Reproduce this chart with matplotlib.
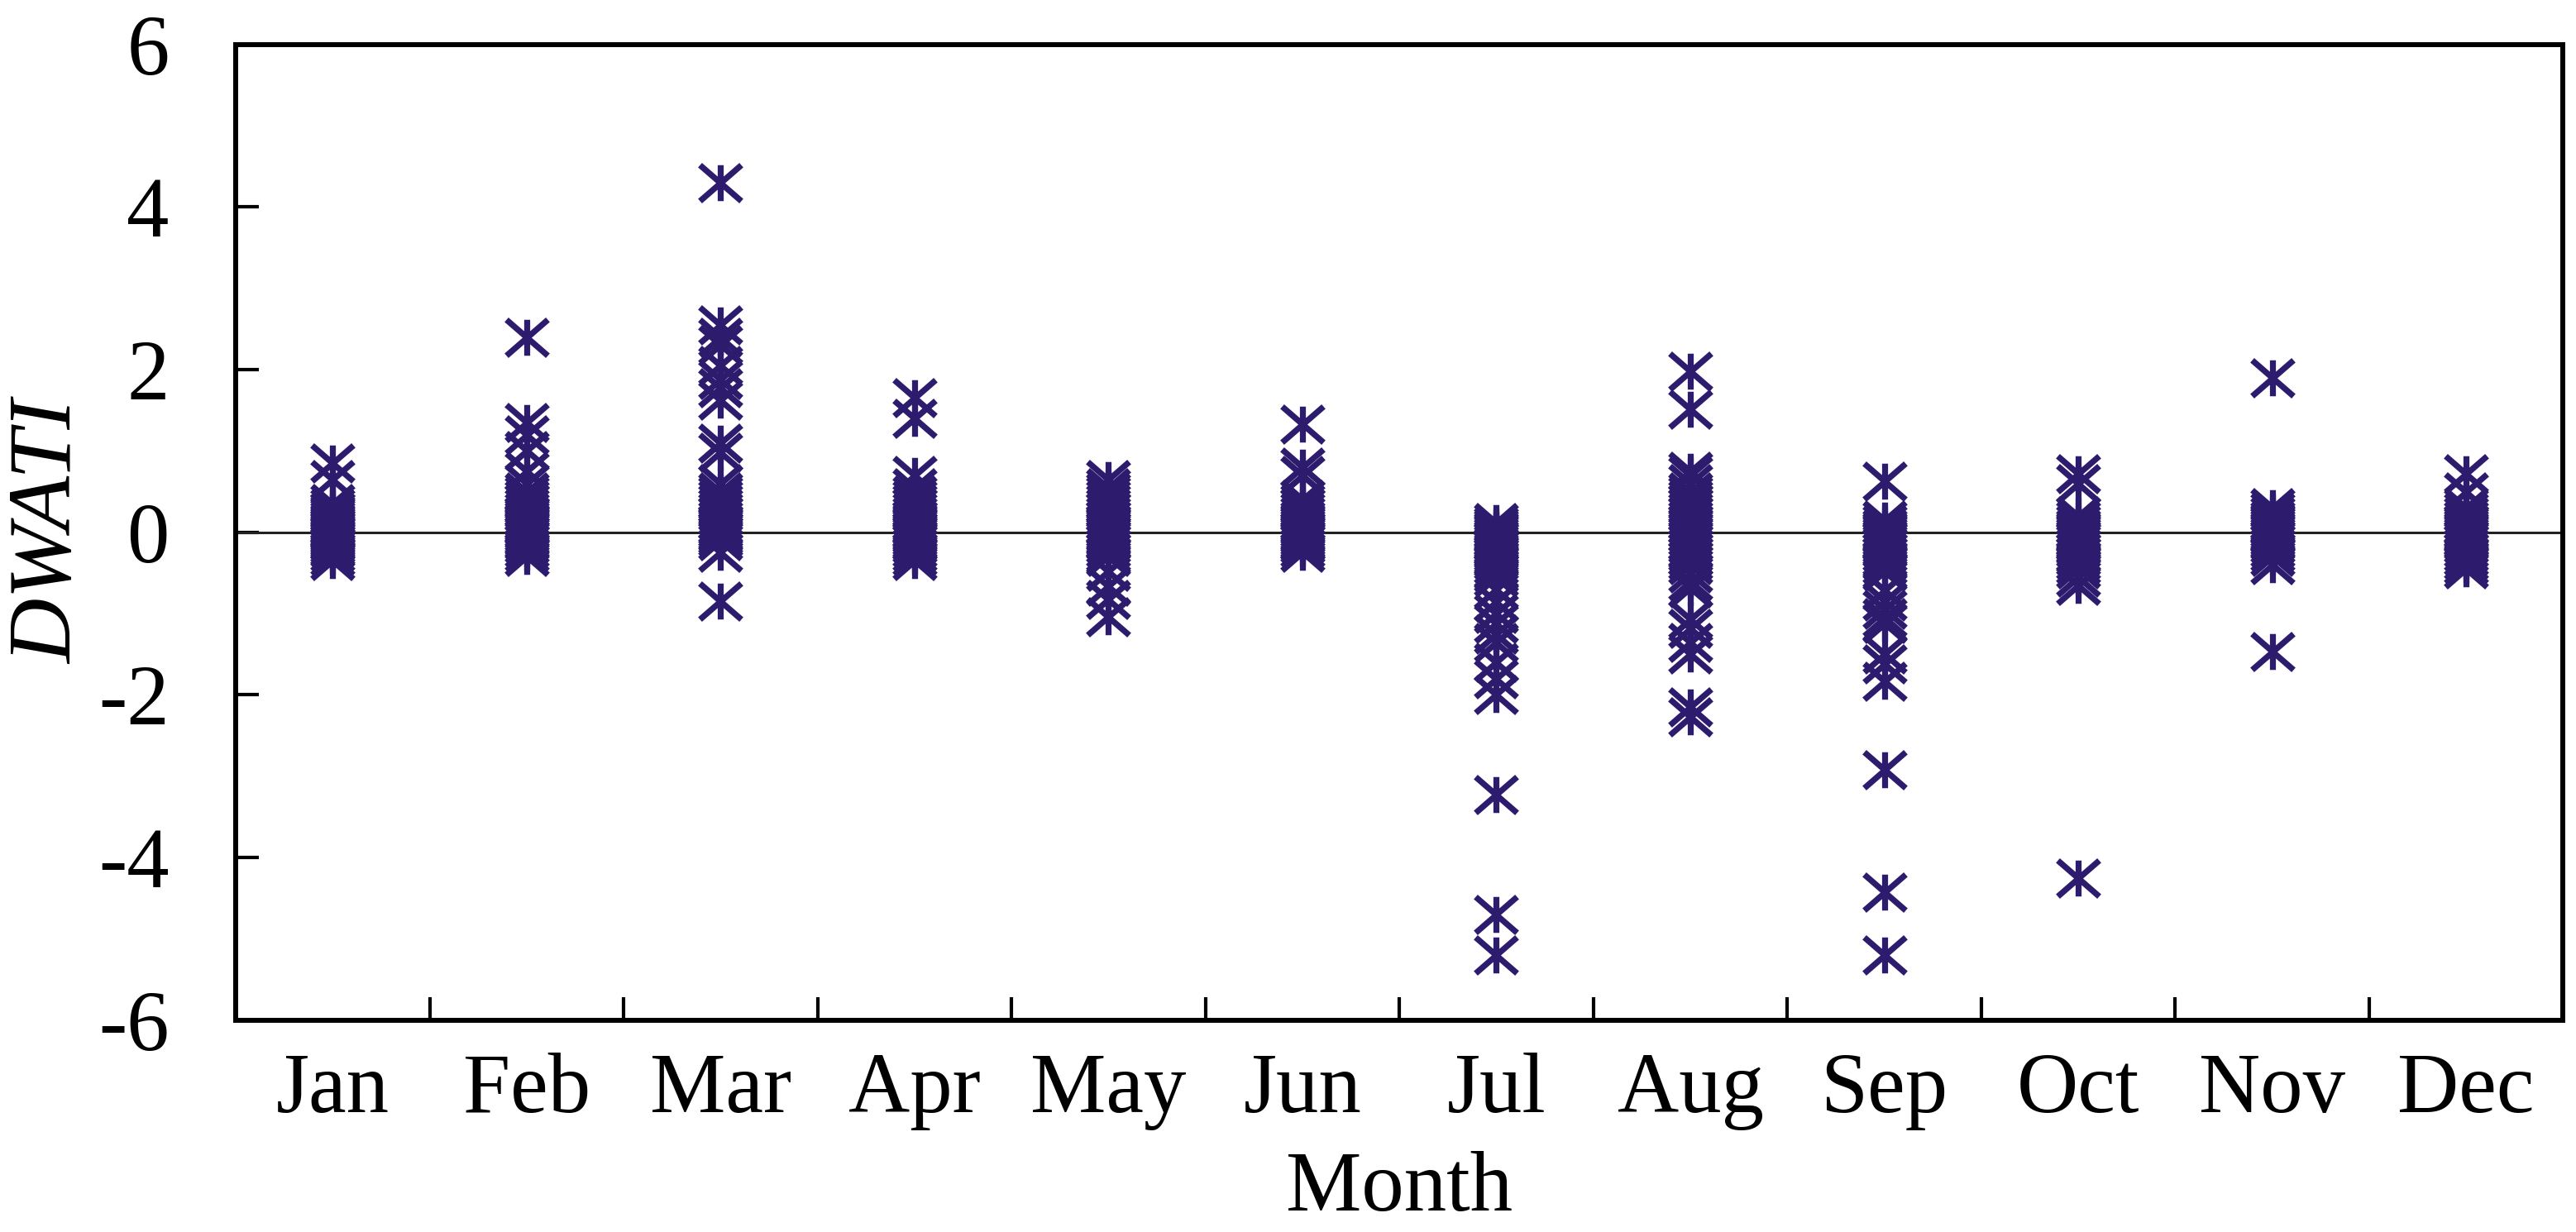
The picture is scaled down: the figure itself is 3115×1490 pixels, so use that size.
import matplotlib
matplotlib.use("Agg")
import matplotlib.pyplot as plt
from matplotlib.path import Path

plt.rcParams['font.family'] = ['Liberation Serif', 'DejaVu Serif']
plt.rcParams['axes.unicode_minus'] = False

months = ["Jan", "Feb", "Mar", "Apr", "May", "Jun", "Jul", "Aug", "Sep", "Oct", "Nov", "Dec"]

jan = [0.85, 0.65, 0.35, 0.3, 0.25, 0.22, 0.2, 0.18, 0.15, 0.12, 0.1, 0.08, 0.06, 0.05, 0.03, 0.02, 0.0,
       -0.02, -0.04, -0.06, -0.08, -0.1, -0.12, -0.15, -0.18, -0.2, -0.25, -0.3, -0.35]
feb = [2.4, 1.35, 1.2, 1.0, 0.75, 0.6, 0.5, 0.45, 0.4, 0.35, 0.3, 0.25, 0.2, 0.18, 0.15, 0.12, 0.1, 0.08,
       0.05, 0.03, 0.0, -0.03, -0.05, -0.08, -0.1, -0.15, -0.2, -0.25, -0.3]
mar = [4.3, 2.55, 2.4, 2.3, 2.05, 1.88, 1.78, 1.62, 1.1, 0.98, 0.6, 0.5, 0.45, 0.4, 0.35, 0.3, 0.25, 0.2,
       0.15, 0.1, 0.08, 0.05, 0.02, 0.0, -0.03, -0.06, -0.1, -0.25, -0.85]
apr = [1.65, 1.4, 0.7, 0.55, 0.45, 0.4, 0.35, 0.3, 0.25, 0.2, 0.15, 0.12, 0.1, 0.08, 0.05, 0.02, 0.0,
       -0.02, -0.05, -0.08, -0.1, -0.12, -0.15, -0.2, -0.25, -0.3, -0.35]
may = [0.65, 0.55, 0.5, 0.45, 0.4, 0.35, 0.3, 0.25, 0.2, 0.15, 0.1, 0.08, 0.05, 0.02, 0.0, -0.03, -0.05,
       -0.08, -0.1, -0.15, -0.2, -0.25, -0.3, -0.48, -0.66, -0.83, -1.04]
jun = [1.33, 0.8, 0.7, 0.4, 0.35, 0.3, 0.25, 0.2, 0.15, 0.12, 0.1, 0.08, 0.05, 0.02, 0.0, -0.02, -0.05,
       -0.08, -0.1, -0.12, -0.15, -0.2, -0.25]
jul = [0.12, 0.08, 0.05, 0.02, 0.0, -0.02, -0.05, -0.08, -0.1, -0.12, -0.15, -0.18, -0.2, -0.22, -0.25,
       -0.28, -0.3, -0.35, -0.4, -0.45, -0.5, -0.55, -0.7, -0.86, -1.0, -1.12, -1.25, -1.36, -1.6, -1.8,
       -2.0, -3.23, -4.7, -5.2]
aug = [1.98, 1.51, 0.75, 0.7, 0.6, 0.5, 0.45, 0.4, 0.35, 0.3, 0.25, 0.2, 0.15, 0.1, 0.05, 0.0, -0.05,
       -0.1, -0.15, -0.2, -0.25, -0.3, -0.35, -0.4, -0.5, -0.6, -0.68, -1.07, -1.18, -1.36, -1.5, -2.15,
       -2.27]
sep = [0.63, 0.15, 0.1, 0.05, 0.02, 0.0, -0.02, -0.05, -0.08, -0.1, -0.12, -0.15, -0.18, -0.2, -0.25,
       -0.3, -0.35, -0.4, -0.48, -0.72, -0.85, -0.95, -1.05, -1.12, -1.5, -1.62, -1.83, -2.92, -4.43, -5.2]
oct_ = [0.72, 0.6, 0.2, 0.15, 0.1, 0.05, 0.02, 0.0, -0.02, -0.05, -0.08, -0.1, -0.12, -0.15, -0.2, -0.25,
        -0.3, -0.35, -0.4, -0.45, -0.55, -0.65, -4.25]
nov = [1.9, 0.3, 0.25, 0.2, 0.15, 0.12, 0.1, 0.08, 0.05, 0.02, 0.0, -0.02, -0.05, -0.08, -0.1, -0.15,
       -0.2, -0.25, -0.3, -0.4, -1.47]
dec = [0.72, 0.5, 0.3, 0.25, 0.2, 0.15, 0.1, 0.08, 0.05, 0.02, 0.0, -0.02, -0.05, -0.08, -0.1, -0.15,
       -0.2, -0.25, -0.3, -0.35, -0.4, -0.45]

series = [jan, feb, mar, apr, may, jun, jul, aug, sep, oct_, nov, dec]
yticks = [-6, -4, -2, 0, 2, 4, 6]

# asterisk marker: vertical bar plus X
verts = [(0, -1), (0, 1), (-1.15, -1), (1.15, 1), (-1.15, 1), (1.15, -1)]
codes = [Path.MOVETO, Path.LINETO] * 3
asterisk = Path(verts, codes)

color = '#2D1B6E'
fs = 74

fig = plt.figure(figsize=(31.15, 14.9), dpi=100)
ax = fig.add_axes([0.0915, 0.172, 0.9035, 0.792])

for i, vals in enumerate(series):
    ax.plot([i + 1] * len(vals), vals, linestyle='none', marker=asterisk, markersize=36,
            markeredgewidth=5.2, color=color, zorder=3)

ax.axhline(0, color='#222222', linewidth=2.2, zorder=2)

ax.set_xlim(0.5, 12.5)
ax.set_ylim(-6, 6)
ax.set_yticks(yticks)
ax.set_yticklabels([str(v) for v in yticks])
ax.set_xticks(range(1, 13))
ax.set_xticklabels(months)
ax.set_xticks([k + 0.5 for k in range(1, 12)], minor=True)

ax.tick_params(axis='x', which='major', length=0, pad=28, labelsize=fs)
ax.tick_params(axis='x', which='minor', direction='in', length=20, width=3)
ax.tick_params(axis='y', which='major', direction='in', length=20, width=3, pad=58, labelsize=fs)

for s in ax.spines.values():
    s.set_linewidth(4.3)

ax.set_xlabel("Month", fontsize=fs, labelpad=18)
ax.set_ylabel("DWATI", fontsize=fs + 4, style='italic', labelpad=7)

fig.savefig("out.png", dpi=100)
